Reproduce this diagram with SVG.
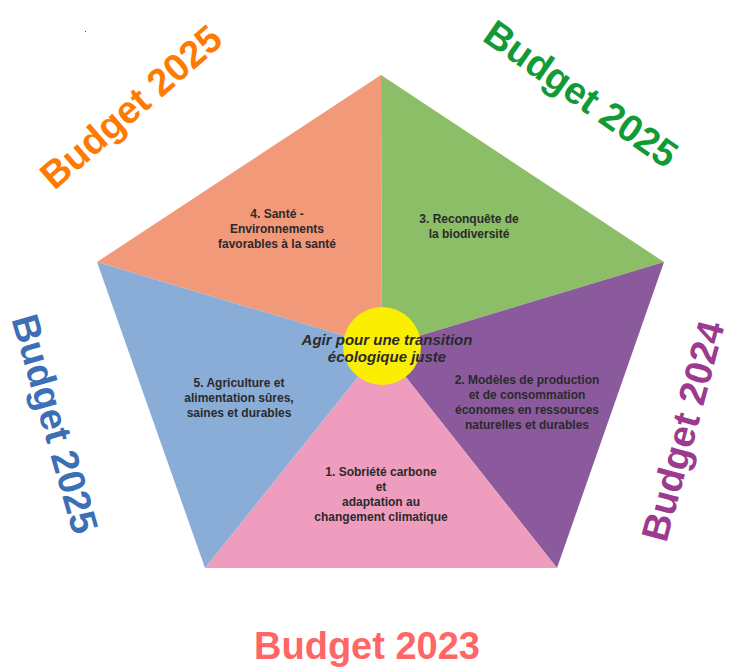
<svg xmlns="http://www.w3.org/2000/svg" width="731" height="668" viewBox="0 0 731 668">
  <style>
    .seg-text { font-family: "Liberation Sans", Arial, sans-serif; font-weight: bold; font-size: 12px; fill: #2a2a2a; text-anchor: middle; }
    .core-text { font-family: "Liberation Sans", Arial, sans-serif; font-weight: bold; font-style: italic; font-size: 15px; fill: #2a2a2a; text-anchor: middle; }
    .budget { font-family: "Liberation Sans", Arial, sans-serif; font-weight: bold; font-size: 38px; text-anchor: middle; }
  </style>
  <rect width="731" height="668" fill="#ffffff"/>
  <rect x="85" y="31" width="1" height="1" fill="#555"/>

  <!-- pentagon sectors, all meeting at the hub -->
  <g id="sector-4-sante">
    <polygon points="381,75 97,262 382,347" fill="#F2997A"/>
    <text class="seg-text" x="277" y="218">4. Santé -</text>
    <text class="seg-text" x="277" y="233">Environnements</text>
    <text class="seg-text" x="277" y="248">favorables à la santé</text>
  </g>
  <g id="sector-3-biodiversite">
    <polygon points="381,75 664,262 382,347" fill="#8BBE67"/>
    <text class="seg-text" x="469" y="223">3. Reconquête de</text>
    <text class="seg-text" x="469" y="238">la biodiversité</text>
  </g>
  <g id="sector-2-production">
    <polygon points="664,262 557,568 382,347" fill="#8A5A9D"/>
    <text class="seg-text" x="527" y="384">2. Modèles de production</text>
    <text class="seg-text" x="527" y="399">et de consommation</text>
    <text class="seg-text" x="527" y="414">économes en ressources</text>
    <text class="seg-text" x="527" y="429">naturelles et durables</text>
  </g>
  <g id="sector-1-sobriete">
    <polygon points="557,568 205,568 382,347" fill="#EF9DBE"/>
    <text class="seg-text" x="381" y="476">1. Sobriété carbone</text>
    <text class="seg-text" x="381" y="491">et</text>
    <text class="seg-text" x="381" y="506">adaptation au</text>
    <text class="seg-text" x="381" y="521">changement climatique</text>
  </g>
  <g id="sector-5-agriculture">
    <polygon points="205,568 97,262 382,347" fill="#8AADD8"/>
    <text class="seg-text" x="239" y="387">5. Agriculture et</text>
    <text class="seg-text" x="239" y="402">alimentation sûres,</text>
    <text class="seg-text" x="239" y="417">saines et durables</text>
  </g>

  <g id="hub">
    <circle cx="382" cy="346" r="39" fill="#FAEF00"/>
    <text class="core-text" x="387" y="345">Agir pour une transition</text>
    <text class="core-text" x="387" y="362">écologique juste</text>
  </g>

  <!-- budget year labels around the pentagon -->
  <g id="budget-sante">
    <text class="budget" fill="#FF7A00" transform="translate(131,107) rotate(-41)" x="0" y="13">Budget 2025</text>
  </g>
  <g id="budget-biodiversite">
    <text class="budget" fill="#119A36" transform="translate(581,94) rotate(35)" x="0" y="13">Budget 2025</text>
  </g>
  <g id="budget-agriculture">
    <text class="budget" fill="#3B6FB6" transform="translate(55,424) rotate(74)" x="0" y="13">Budget 2025</text>
  </g>
  <g id="budget-production">
    <text class="budget" fill="#9B3A8F" transform="translate(683,431) rotate(-75)" x="0" y="13">Budget 2024</text>
  </g>
  <g id="budget-sobriete">
    <text class="budget" fill="#FF6666" x="367" y="659">Budget 2023</text>
  </g>
</svg>
